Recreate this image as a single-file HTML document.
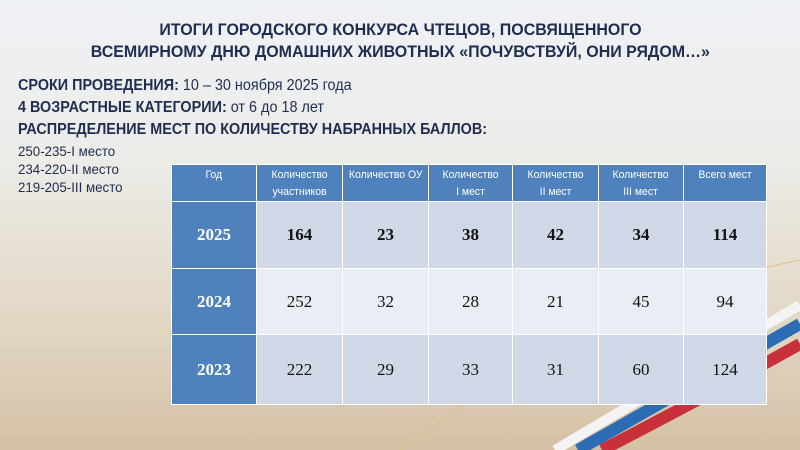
<!DOCTYPE html><html><head><meta charset="utf-8"><style>
body{margin:0;width:800px;height:450px;overflow:hidden;position:relative;font-family:"Liberation Sans",sans-serif;
background:linear-gradient(180deg,#eef1f6 0%,#ecece8 35%,#e3d8c6 70%,#d4c1a5 100%);}
.h{position:absolute;width:800px;text-align:center;font-size:17px;font-weight:bold;color:#1f2d4f;}
.h span{display:inline-block;transform:scaleX(0.94);transform-origin:center;white-space:nowrap;}
.l,.s{position:absolute;left:18px;color:#1f2d4f;white-space:nowrap;transform-origin:left;}
.l{font-size:16px;transform:scaleX(0.9)}.s{font-size:14px;transform:scaleX(0.95)}
table{position:absolute;left:171px;top:164px;border-collapse:collapse;width:595px;table-layout:fixed;}
td{border:1px solid #fff;text-align:center;font-family:"Liberation Serif",serif;font-size:17px;color:#111;padding:0;}
th{background:#4f81bd;color:#fff;font-size:11px;font-weight:normal;border:1px solid #fff;height:32px;vertical-align:top;padding:2px 0 0;line-height:17px;white-space:nowrap;overflow:hidden;}
th span{display:inline-block;transform:scaleX(0.95);}
tr.a td{background:#d0d8e8;} tr.b td{background:#e9edf4;}
td.y{background:#4f81bd!important;color:#fff;font-weight:bold;}
</style></head><body>
<svg style="position:absolute;left:0;top:0" width="800" height="450">
<path d="M555 450 Q690 370 800 305" stroke="#f4f4f4" stroke-width="10" fill="none"/>
<path d="M578 450 Q705 378 800 324" stroke="#2b6cb5" stroke-width="12" fill="none"/>
<path d="M602 450 Q718 390 800 344" stroke="#c8303a" stroke-width="12" fill="none"/>
<path d="M400 450 Q600 300 800 260" stroke="#e0c080" stroke-width="1" fill="none"/>
</svg>
<div class="h" style="top:20px"><span>ИТОГИ ГОРОДСКОГО КОНКУРСА ЧТЕЦОВ, ПОСВЯЩЕННОГО</span></div>
<div class="h" style="top:42px"><span>ВСЕМИРНОМУ ДНЮ ДОМАШНИХ ЖИВОТНЫХ «ПОЧУВСТВУЙ, ОНИ РЯДОМ…»</span></div>
<div class="l" style="top:77px"><b>СРОКИ ПРОВЕДЕНИЯ:</b> 10 – 30 ноября 2025 года</div>
<div class="l" style="top:99px"><b>4 ВОЗРАСТНЫЕ КАТЕГОРИИ:</b> от 6 до 18 лет</div>
<div class="l" style="top:121px"><b>РАСПРЕДЕЛЕНИЕ МЕСТ ПО КОЛИЧЕСТВУ НАБРАННЫХ БАЛЛОВ:</b></div>
<div class="s" style="top:143px">250-235-I место</div>
<div class="s" style="top:161px">234-220-II место</div>
<div class="s" style="top:179px">219-205-III место</div>
<table>
<colgroup><col style="width:85px"><col style="width:86px"><col style="width:86px"><col style="width:84px"><col style="width:86px"><col style="width:85px"><col style="width:83px"></colgroup>
<tr><th><span>Год</span></th><th><span>Количество<br>участников</span></th><th><span>Количество ОУ</span></th><th><span>Количество<br>I мест</span></th><th><span>Количество<br>II мест</span></th><th><span>Количество<br>III мест</span></th><th><span>Всего мест</span></th></tr>
<tr class="a" style="height:67px"><td class="y">2025</td><td><b>164</b></td><td><b>23</b></td><td><b>38</b></td><td><b>42</b></td><td><b>34</b></td><td><b>114</b></td></tr>
<tr class="b" style="height:66px"><td class="y">2024</td><td>252</td><td>32</td><td>28</td><td>21</td><td>45</td><td>94</td></tr>
<tr class="a" style="height:70px"><td class="y">2023</td><td>222</td><td>29</td><td>33</td><td>31</td><td>60</td><td>124</td></tr>
</table>
</body></html>
